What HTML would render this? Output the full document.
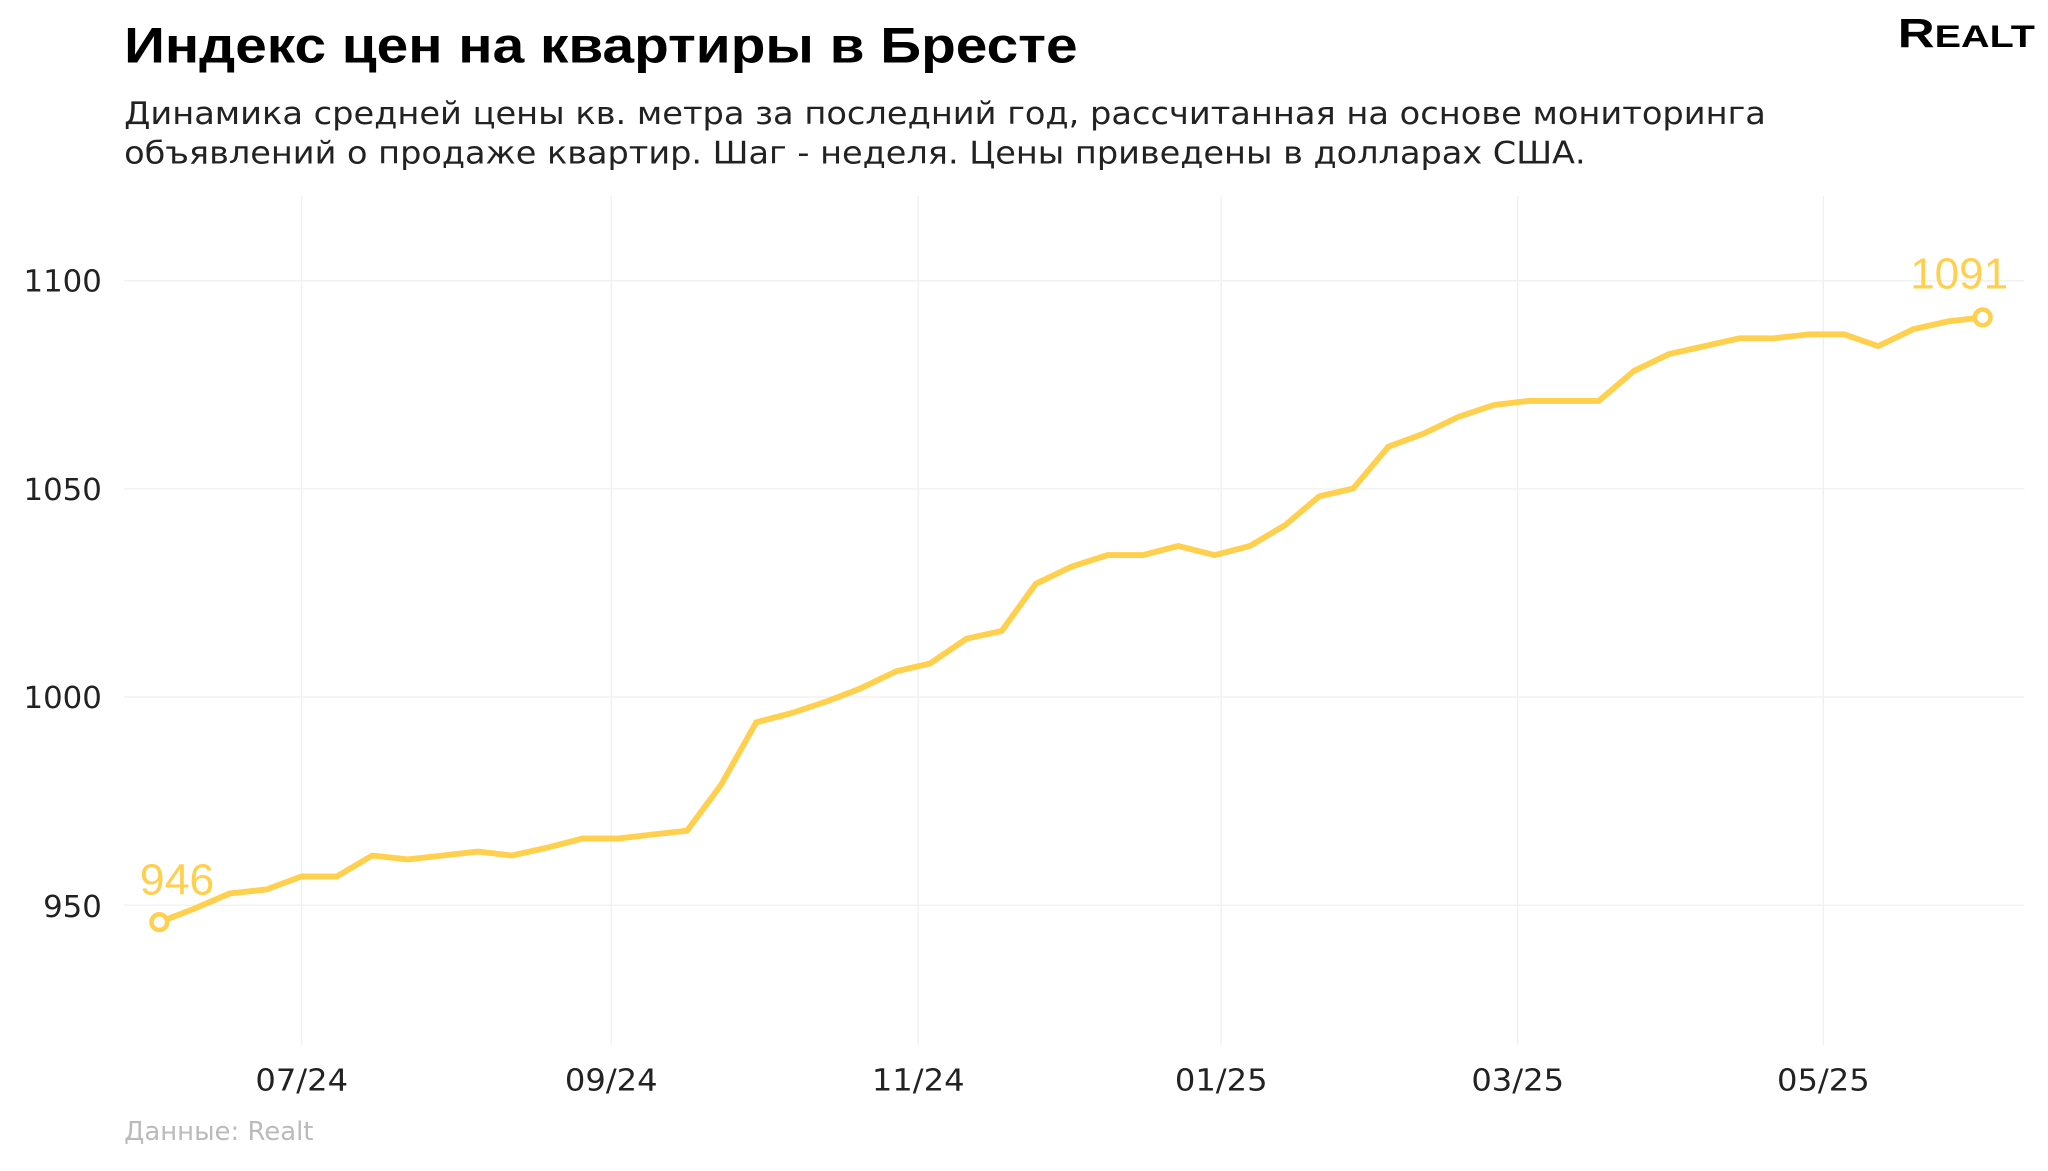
<!DOCTYPE html>
<html><head><meta charset="utf-8"><style>
html,body{margin:0;padding:0;background:#fff;}
svg{display:block;}
</style></head><body>
<svg width="2048" height="1171" viewBox="0 0 1568 896.55" xmlns="http://www.w3.org/2000/svg">
<rect width="1568" height="897" fill="#fff"/>
<text x="95" y="48" font-family="Liberation Sans, sans-serif" font-weight="bold" font-size="38" fill="#000" textLength="730" lengthAdjust="spacingAndGlyphs">Индекс цен на квартиры в Бресте</text>
<text x="95" y="95" font-family="DejaVu Sans, Liberation Sans, sans-serif" font-size="24" fill="#222" textLength="1257" lengthAdjust="spacingAndGlyphs">Динамика средней цены кв. метра за последний год, рассчитанная на основе мониторинга</text>
<text x="95" y="125" font-family="DejaVu Sans, Liberation Sans, sans-serif" font-size="24" fill="#222" textLength="1119" lengthAdjust="spacingAndGlyphs">объявлений о продаже квартир. Шаг - неделя. Цены приведены в долларах США.</text>
<text x="1453" y="36" font-family="Liberation Sans, sans-serif" font-weight="bold" font-size="31" fill="#000" textLength="105" lengthAdjust="spacingAndGlyphs">R<tspan font-size="24">EALT</tspan></text>
<g stroke="#f0f0f0" stroke-width="1">
<line x1="95" x2="1550" y1="215" y2="215"/>
<line x1="95" x2="1550" y1="374.3" y2="374.3"/>
<line x1="95" x2="1550" y1="533.7" y2="533.7"/>
<line x1="95" x2="1550" y1="693" y2="693"/>
<line x1="231" x2="231" y1="150" y2="800"/>
<line x1="468" x2="468" y1="150" y2="800"/>
<line x1="703" x2="703" y1="150" y2="800"/>
<line x1="935" x2="935" y1="150" y2="800"/>
<line x1="1162" x2="1162" y1="150" y2="800"/>
<line x1="1396" x2="1396" y1="150" y2="800"/>
</g>
<g font-family="DejaVu Sans, Liberation Sans, sans-serif" font-size="23" fill="#222" text-anchor="end">
<text x="78" y="223" textLength="60" lengthAdjust="spacingAndGlyphs">1100</text>
<text x="78" y="383" textLength="60" lengthAdjust="spacingAndGlyphs">1050</text>
<text x="78" y="542" textLength="60" lengthAdjust="spacingAndGlyphs">1000</text>
<text x="78" y="702" textLength="45" lengthAdjust="spacingAndGlyphs">950</text>
</g>
<g font-family="DejaVu Sans, Liberation Sans, sans-serif" font-size="23" fill="#222" text-anchor="middle">
<text x="231" y="835" textLength="71" lengthAdjust="spacingAndGlyphs">07/24</text>
<text x="468" y="835" textLength="71" lengthAdjust="spacingAndGlyphs">09/24</text>
<text x="703" y="835" textLength="71" lengthAdjust="spacingAndGlyphs">11/24</text>
<text x="935" y="835" textLength="71" lengthAdjust="spacingAndGlyphs">01/25</text>
<text x="1162" y="835" textLength="71" lengthAdjust="spacingAndGlyphs">03/25</text>
<text x="1396" y="835" textLength="71" lengthAdjust="spacingAndGlyphs">05/25</text>
</g>
<text x="95" y="873" font-family="DejaVu Sans, Liberation Sans, sans-serif" font-size="20" fill="#bbb" textLength="145" lengthAdjust="spacingAndGlyphs">Данные: Realt</text>
<polyline fill="none" stroke="#FFD04E" stroke-width="4.5" stroke-linejoin="round" stroke-linecap="round" points="122,706 148,696 176,684 204,681 231,671 258,671 285,655 312,658 339,655 366,652 392,655 419,649 446,642 473,642 499,639 526,636 552,601 579,553 606,546 633,537 659,527 686,514 712,508 740,489 767,483 793,447 820,434 848,425 875,425 902,418 930,425 957,418 984,402 1010,380 1036,374 1063,342 1090,332 1117,319 1144,310 1170,307 1197,307 1224,307 1251,284 1278,271 1305,265 1332,259 1358,259 1385,256 1412,256 1438,265 1465,252 1492,246 1518,243"/>
<circle cx="122" cy="706" r="6" fill="#fff" stroke="#FFD04E" stroke-width="3.5"/>
<circle cx="1518" cy="243" r="6" fill="#fff" stroke="#FFD04E" stroke-width="3.5"/>
<text x="135.5" y="685" font-family="Liberation Sans, sans-serif" font-size="33" fill="#FFD04E" text-anchor="middle" textLength="57" lengthAdjust="spacingAndGlyphs">946</text>
<text x="1500" y="221" font-family="Liberation Sans, sans-serif" font-size="33" fill="#FFD04E" text-anchor="middle" textLength="75" lengthAdjust="spacingAndGlyphs">1091</text>
</svg>
</body></html>
